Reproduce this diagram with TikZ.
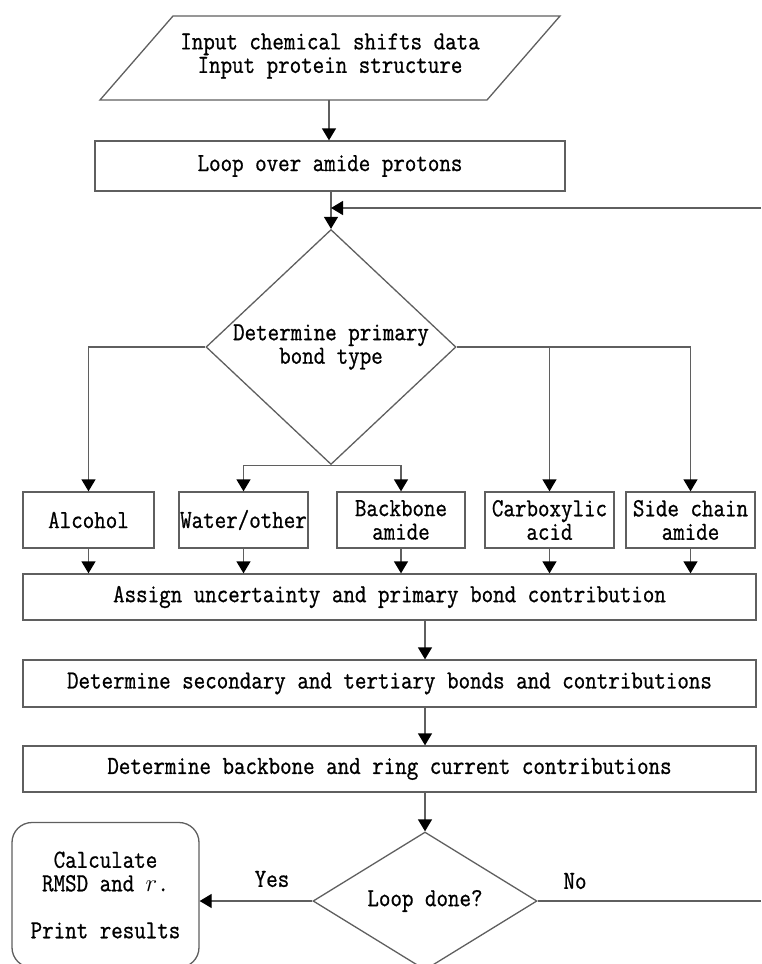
\documentclass[tikz,border=0pt]{standalone}
\usepackage{fontspec}
\setmonofont{Latin Modern Mono}[FakeStretch=0.86, FakeBold=0.8]
\usepackage{tikz}
\usetikzlibrary{
    positioning,
    arrows.meta,
    calc,
    shapes.geometric
}
\definecolor{lineGray}{RGB}{95, 95, 95}

\begin{document}
\begin{tikzpicture}[x=1pt, y=-1pt,
        >={Triangle[width=14pt, length=12pt, color=black]},
        font=\ttfamily\fontsize{26}{23.5}\selectfont,
        box/.style={draw=lineGray, line width=1.3pt, rectangle, inner sep=0pt, align=center},
        decision/.style={draw=lineGray, line width=1.3pt, diamond, inner sep=0pt, align=center},
        link/.style={draw=lineGray, line width=1.3pt}]
        \useasboundingbox (0,0) rectangle (761,964);

        % 入力
        \draw[lineGray, line width=1.3pt] (173,16) -- (560,16) -- (487,100) -- (100,100) -- cycle;
        \node[align=center] (inp) at (330,56) {Input chemical shifts data\\Input protein structure};
        \coordinate (inpB) at (329,100);

        % ループ
        \node[box, minimum width=470, minimum height=50] (loop) at (330,166) {Loop over amide protons};
        \node[decision, aspect=1.06, minimum width=250, minimum height=235] (prim) at (331,347) {Determine primary\\bond type};

        % 結合の種類
        \node[box, minimum width=131, minimum height=56] (alc) at (88.5,520) {Alcohol};
        \node[box, minimum width=129, minimum height=56] (wat) at (243.5,520) {Water/other};
        \node[box, minimum width=128, minimum height=56] (bb) at (401,520) {Backbone\\amide};
        \node[box, minimum width=129, minimum height=56] (carb) at (549.5,520) {Carboxylic\\acid};
        \node[box, minimum width=129, minimum height=56] (side) at (690.5,520) {Side chain\\amide};

        % 寄与
        \node[box, minimum width=733, minimum height=46] (asg) at (389.5,597) {Assign uncertainty and primary bond contribution};
        \node[box, minimum width=733, minimum height=47] (sec) at (389.5,683.5) {Determine secondary and tertiary bonds and contributions};
        \node[box, minimum width=733, minimum height=46] (ring) at (389.5,769) {Determine backbone and ring current contributions};

        % 終了判定
        \node[decision, aspect=1.62, minimum width=224, minimum height=138] (done) at (425,901) {Loop done?};
        \node[box, rounded corners=20pt, minimum width=187, minimum height=145] (fin) at (105.5,895) {Calculate\\RMSD and $r$.\\[23.5pt]Print results};
        \node (yes) at (272,879) {Yes};
        \node (no) at (575,881) {No};
        \coordinate (noEnd) at (761,901);
        \coordinate (loopBack) at (761,208);

        % 矢印
        \draw[link, ->] (inpB) -- (inpB |- loop.north);
        \draw[link, ->] (loop.south -| prim) -- (prim.north);
        \draw[link, ->] (loopBack) -- (loopBack -| prim);
        \draw[link, ->] (prim.west) -| (alc.north);
        \draw[link, ->] (prim.east) -| (carb.north);
        \draw[link, ->] (prim.east) -| (side.north);
        \draw[link, ->] (prim.south) -| (wat.north);
        \draw[link, ->] (prim.south) -| (bb.north);
        \foreach \b in {alc, wat, bb, carb, side}
            \draw[link, ->] (\b.south) -- (\b.south |- asg.north);
        \draw[link, ->] (asg.south -| done) -- (sec.north -| done);
        \draw[link, ->] (sec.south -| done) -- (ring.north -| done);
        \draw[link, ->] (ring.south -| done) -- (done.north);
        \draw[link, ->] (done.west) -- (done.west -| fin.east);
        \draw[link] (done.east) -- (noEnd);
    \end{tikzpicture}
\end{document}
